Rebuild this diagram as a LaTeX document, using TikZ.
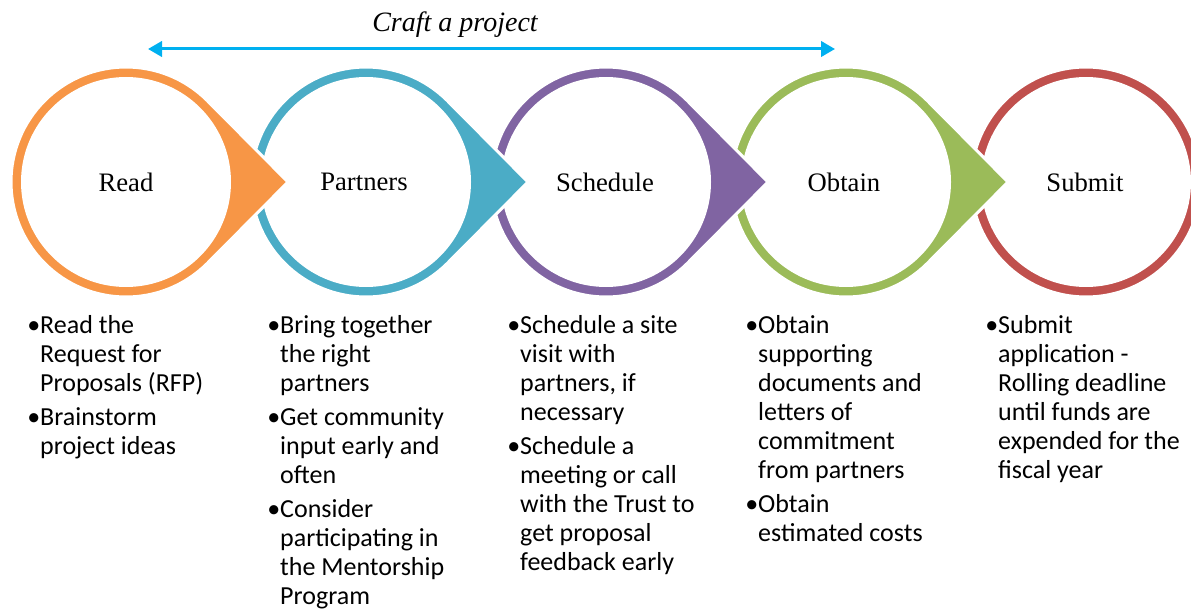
\documentclass[tikz,border=0pt]{standalone}
\usepackage{fontspec}
\setmainfont{Liberation Serif}
\newfontfamily\listfont{Carlito}
\usetikzlibrary{arrows.meta,calc}
\definecolor{cOrange}{HTML}{F79646}
\definecolor{cTeal}{HTML}{4BACC6}
\definecolor{cPurple}{HTML}{8064A2}
\definecolor{cGreen}{HTML}{9BBB59}
\definecolor{cRed}{HTML}{C0504D}
\definecolor{cArrow}{HTML}{00B0F0}
% ring with pointer: #1 = centre x (px), #2 = colour
\newcommand{\pointring}[2]{%
  \filldraw[fill=#2, draw=white, line width=2.25pt]
    (#1+162,182) -- ($(#1,182)+(45.26:115)$) arc[start angle=45.26, end angle=314.74, radius=115] -- cycle;
  \fill[white] (#1,182) circle[radius=105];
}
\newcommand{\plainring}[2]{%
  \filldraw[fill=#2, draw=white, line width=2.25pt] (#1,182) circle[radius=115];
  \fill[white] (#1,182) circle[radius=105];
}
\tikzset{
  ringlabel/.style={font=\fontsize{20}{24}\selectfont, inner sep=0pt},
  steplist/.style={anchor=base west, inner sep=0pt, font=\listfont\fontsize{19.5}{21.75}\selectfont, align=left},
  spanarrow/.style={draw=cArrow, line width=2.25pt, {Triangle[length=10.5pt, width=11.5pt]}-{Triangle[length=10.5pt, width=11.5pt]}},
}
\newcommand{\bl}{\textbullet}
\newcommand{\ind}{\hphantom{\textbullet}}
\begin{document}
\begin{tikzpicture}[x=0.75pt, y=-0.75pt]
\useasboundingbox (0,0) rectangle (1191,610);
\begin{scope}
\clip (0,0) rectangle (1191,610);
\plainring{1086}{cRed}
\pointring{846}{cGreen}
\pointring{606}{cPurple}
\pointring{366}{cTeal}
\pointring{126}{cOrange}
\end{scope}
\node[ringlabel] (read) at (126,182) {Read};
\node[ringlabel] (partners) at (364,182) {Partners};
\node[ringlabel] (schedule) at (605,182) {Schedule};
\node[ringlabel] (obtain) at (844,182) {Obtain};
\node[ringlabel] (submit) at (1085,182) {Submit};

\coordinate (arrL) at (148,49);
\coordinate (arrR) at (835,49);
\draw[spanarrow] (arrL) -- (arrR);
\node[font=\itshape\fontsize{21}{25}\selectfont, anchor=base, inner sep=0pt] (craft) at (455,32) {Craft a project};

\node[steplist] (list1) at (27,333) {\begin{tabular}[t]{@{}l@{}}
\bl Read the\\ \ind Request for\\ \ind Proposals (RFP)\\[3.75pt]
\bl Brainstorm\\ \ind project ideas\end{tabular}};
\node[steplist] (list2) at (267,333) {\begin{tabular}[t]{@{}l@{}}
\bl Bring together\\ \ind the right\\ \ind partners\\[3.75pt]
\bl Get community\\ \ind input early and\\ \ind often\\[3.75pt]
\bl Consider\\ \ind participating in\\ \ind the Mentorship\\ \ind Program\end{tabular}};
\node[steplist] (list3) at (507,333) {\begin{tabular}[t]{@{}l@{}}
\bl Schedule a site\\ \ind visit with\\ \ind partners, if\\ \ind necessary\\[3.75pt]
\bl Schedule a\\ \ind meeting or call\\ \ind with the Trust to\\ \ind get proposal\\ \ind feedback early\end{tabular}};
\node[steplist] (list4) at (745,333) {\begin{tabular}[t]{@{}l@{}}
\bl Obtain\\ \ind supporting\\ \ind documents and\\ \ind letters of\\ \ind commitment\\ \ind from partners\\[3.75pt]
\bl Obtain\\ \ind estimated costs\end{tabular}};
\node[steplist] (list5) at (985,333) {\begin{tabular}[t]{@{}l@{}}
\bl Submit\\ \ind application -\\ \ind Rolling deadline\\ \ind until funds are\\ \ind expended for the\\ \ind fiscal year\end{tabular}};
\end{tikzpicture}
\end{document}
